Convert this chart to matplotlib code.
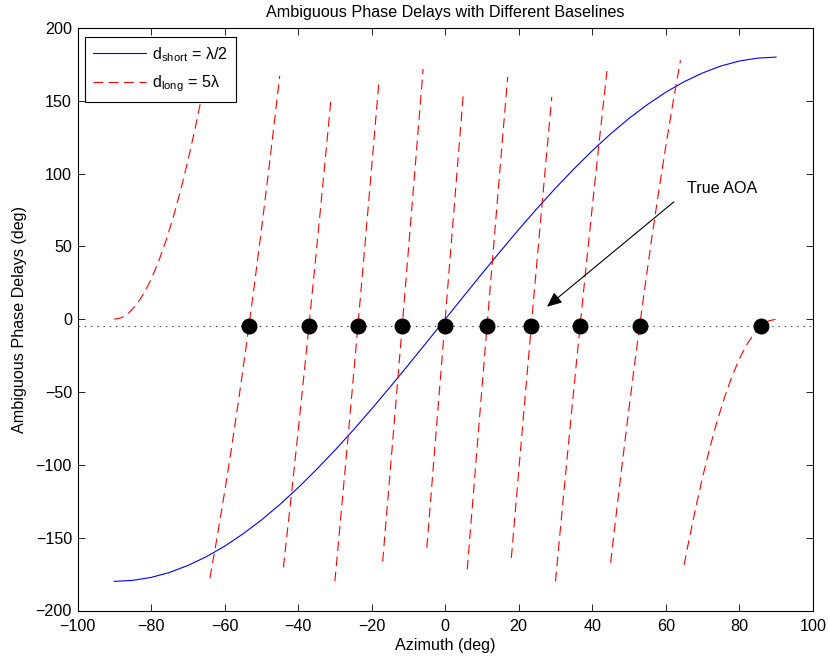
import numpy as np
import matplotlib
matplotlib.use("Agg")
import matplotlib.pyplot as plt

plt.rcParams['font.family'] = ['Liberation Sans', 'DejaVu Sans']
plt.rcParams['mathtext.fontset'] = 'custom'
plt.rcParams['mathtext.rm'] = 'Liberation Sans'
plt.rcParams['lines.scale_dashes'] = False

# short baseline (lambda/2): phase delay vs azimuth
short_az = [-90, -85, -80, -75, -70, -65, -60, -55, -50, -45, -40, -35, -30, -25, -20, -15, -10, -5,
            0, 5, 10, 15, 20, 25, 30, 35, 40, 45, 50, 55, 60, 65, 70, 75, 80, 85, 90]
short_phase = [-180, -179.3, -177.3, -173.9, -169.1, -163.1, -155.9, -147.4, -137.9, -127.3, -115.7,
               -103.2, -90, -76.1, -61.6, -46.6, -31.3, -15.7,
               0, 15.7, 31.3, 46.6, 61.6, 76.1, 90, 103.2, 115.7, 127.3, 137.9, 147.4, 155.9,
               163.1, 169.1, 173.9, 177.3, 179.3, 180]

# long baseline (5 lambda): wrapped phase, one list per branch
long_az = [
    [-90, -88, -86, -84, -82, -80, -78, -76, -74, -72, -70, -68, -66, -65],
    [-64, -62, -60, -58, -56, -54, -52, -50, -48, -46, -45],
    [-44, -42, -40, -38, -36, -34, -32, -31],
    [-30, -28, -26, -24, -22, -20, -18],
    [-17, -14, -11, -8, -6],
    [-5, 0, 5],
    [6, 9, 12, 15, 17],
    [18, 20, 22, 24, 26, 28, 29],
    [30, 32, 34, 36, 38, 40, 42, 44],
    [45, 46, 48, 50, 52, 54, 56, 58, 60, 62, 64],
    [65, 66, 68, 70, 72, 74, 76, 78, 80, 82, 84, 86, 88, 90],
]
long_phase = [
    [0, 1.1, 4.4, 9.9, 17.5, 27.3, 39.3, 53.5, 69.7, 88.1, 108.6, 131.1, 155.6, 168.6],
    [-177.8, -149.3, -118.8, -86.5, -52.3, -16.2, 21.6, 61.1, 102.3, 145.2, 167.2],
    [-170.4, -124.4, -77.0, -28.2, 22.0, 73.5, 126.1, 152.9],
    [-180, -125.0, -69.1, -12.1, 45.7, 104.4, 163.8],
    [-166.3, -75.5, 16.5, 109.5, 171.8],
    [-156.9, 0, 156.9],
    [-171.8, -78.4, 14.2, 105.9, 166.3],
    [-163.8, -104.4, -45.7, 12.1, 69.1, 125.0, 152.7],
    [-180, -126.1, -73.5, -22.0, 28.2, 77.0, 124.4, 170.4],
    [-167.2, -145.2, -102.3, -61.1, -21.6, 16.2, 52.3, 86.5, 118.8, 149.3, 177.8],
    [-168.6, -155.6, -131.1, -108.6, -88.1, -69.7, -53.5, -39.3, -27.3, -17.5, -9.9, -4.4, -1.1, 0],
]

# measured phase and the ambiguous candidate angles
measured_phase = -4.4
candidate_az = [-53.4, -37.0, -23.7, -11.7, -0.1, 11.4, 23.4, 36.7, 52.9, 86.0]

fs = 11.6

fig = plt.figure(figsize=(8.29, 6.6), dpi=100)
ax = fig.add_axes([0.0935, 0.075, 0.887, 0.8826])

ax.plot(short_az, short_phase, color='#0000ff', lw=0.8, label=r'd$_{\mathrm{short}}$ = λ/2')
for i, (az, ph) in enumerate(zip(long_az, long_phase)):
    ax.plot(az, ph, color='#ff0000', lw=0.8, linestyle=(0, (7, 4)),
            label=r'd$_{\mathrm{long}}$ = 5λ' if i == 0 else None)

ax.axhline(measured_phase, color='0.25', lw=0.8, linestyle=(0, (1, 3.5)))
ax.plot(candidate_az, [measured_phase] * len(candidate_az), 'o', color='k', ms=10.5, zorder=5)

ax.annotate('', xy=(27.7, 8.6), xytext=(62.2, 80.6),
            arrowprops=dict(arrowstyle='-|>,head_length=0.45,head_width=0.2',
                            color='k', lw=0.8, mutation_scale=20, shrinkA=0, shrinkB=0))
ax.text(65.7, 90, 'True AOA', fontsize=fs, ha='left', va='center')

ax.set_xlim(-100, 100)
ax.set_ylim(-200, 200)
ax.set_xticks(range(-100, 101, 20))
ax.set_yticks(range(-200, 201, 50))
ax.tick_params(direction='in', length=5, width=0.6, top=True, right=True, labelsize=fs)
ax.tick_params(axis='x', pad=6)
ax.tick_params(axis='y', pad=4)
for s in ax.spines.values():
    s.set_linewidth(0.8)

ax.set_xlabel('Azimuth (deg)', fontsize=fs, labelpad=3)
ax.set_ylabel('Ambiguous Phase Delays (deg)', fontsize=fs, labelpad=6)
ax.set_title('Ambiguous Phase Delays with Different Baselines', fontsize=fs, pad=8)

leg = ax.legend(loc='upper left', bbox_to_anchor=(0.0102, 0.9845), borderaxespad=0,
                fancybox=False, framealpha=1, edgecolor='k', fontsize=fs,
                handlelength=3.3, handletextpad=0.35, labelspacing=0.6, borderpad=0.5)
leg.get_frame().set_linewidth(0.8)
leg.set_zorder(10)

fig.savefig('out.png', dpi=100)
